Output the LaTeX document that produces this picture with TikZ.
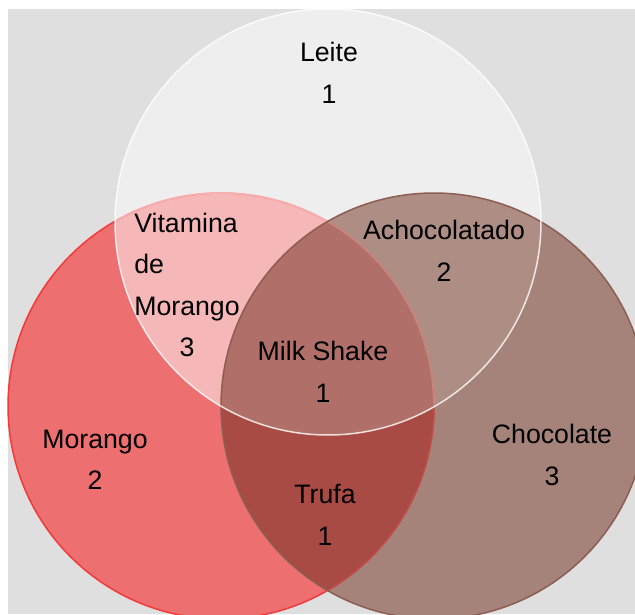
\documentclass[tikz,border=0pt]{standalone}
\usepackage{fontspec}
\setmainfont{Liberation Sans}
\usepackage{xcolor}
\definecolor{fundo}{HTML}{DFDFDF}
\definecolor{leitecor}{HTML}{EEEEEE}
\definecolor{morangocor}{HTML}{EE6F70}
\definecolor{chococor}{HTML}{A5837A}
\definecolor{vitaminacor}{HTML}{F5B7B7}
\definecolor{achococor}{HTML}{AD8D84}
\definecolor{trufacor}{HTML}{A84B45}
\definecolor{shakecor}{HTML}{B06F68}
\definecolor{morangoborda}{HTML}{F23A3A}
\definecolor{chocoborda}{HTML}{8C5D52}
\newcommand{\leitecirc}{(328,222) circle[radius=213pt]}
\newcommand{\morangocirc}{(221,406) circle[radius=213pt]}
\newcommand{\chococirc}{(434,406) circle[radius=213pt]}
\tikzset{
  fonte/.style={font=\fontsize{26.7}{41.5}\selectfont, inner sep=0pt},
  rotulo/.style={fonte, align=center},
  borda/.style={line width=1.5pt},
}

\begin{document}
\begin{tikzpicture}[x=1pt, y=-1pt]
  \useasboundingbox (0,0) rectangle (635,614);
  \fill[white] (0,0) rectangle (635,614);
  \fill[fundo] (8,9) rectangle (635,614);

  % conjuntos
  \fill[leitecor] \leitecirc;
  \fill[morangocor] \morangocirc;
  \fill[chococor] \chococirc;
  % intersecoes
  \begin{scope}
    \clip \morangocirc;
    \fill[vitaminacor] \leitecirc;
    \fill[trufacor] \chococirc;
  \end{scope}
  \begin{scope}
    \clip \chococirc;
    \fill[achococor] \leitecirc;
  \end{scope}
  \begin{scope}
    \clip \morangocirc;
    \clip \chococirc;
    \fill[shakecor] \leitecirc;
  \end{scope}

  % bordas
  \draw[borda, morangoborda] \morangocirc;
  \begin{scope}
    \clip \leitecirc;
    \draw[borda, white, opacity=.6] \morangocirc;
  \end{scope}
  \begin{scope}
    \clip \chococirc;
    \draw[borda, chocoborda, opacity=.5] \morangocirc;
  \end{scope}
  \draw[borda, chocoborda] \chococirc;
  \draw[borda, white, opacity=.8] \leitecirc;

  \node[rotulo] (leite) at (329,73) {Leite\\1};
  \node[rotulo] (achocolatado) at (444,251) {Achocolatado\\2};
  \node[rotulo] (milkshake) at (323,372) {Milk Shake\\1};
  \node[rotulo] (morango) at (95,460) {Morango\\2};
  \node[rotulo] (chocolate) at (552,455) {Chocolate\\3};
  \node[rotulo] (trufa) at (325,515) {Trufa\\1};
  \node[fonte] (vitamina) at (187,286) {\begin{tabular}{@{}l@{}}Vitamina\\de\\Morango\\\multicolumn{1}{@{}c@{}}{3}\end{tabular}};
\end{tikzpicture}
\end{document}
